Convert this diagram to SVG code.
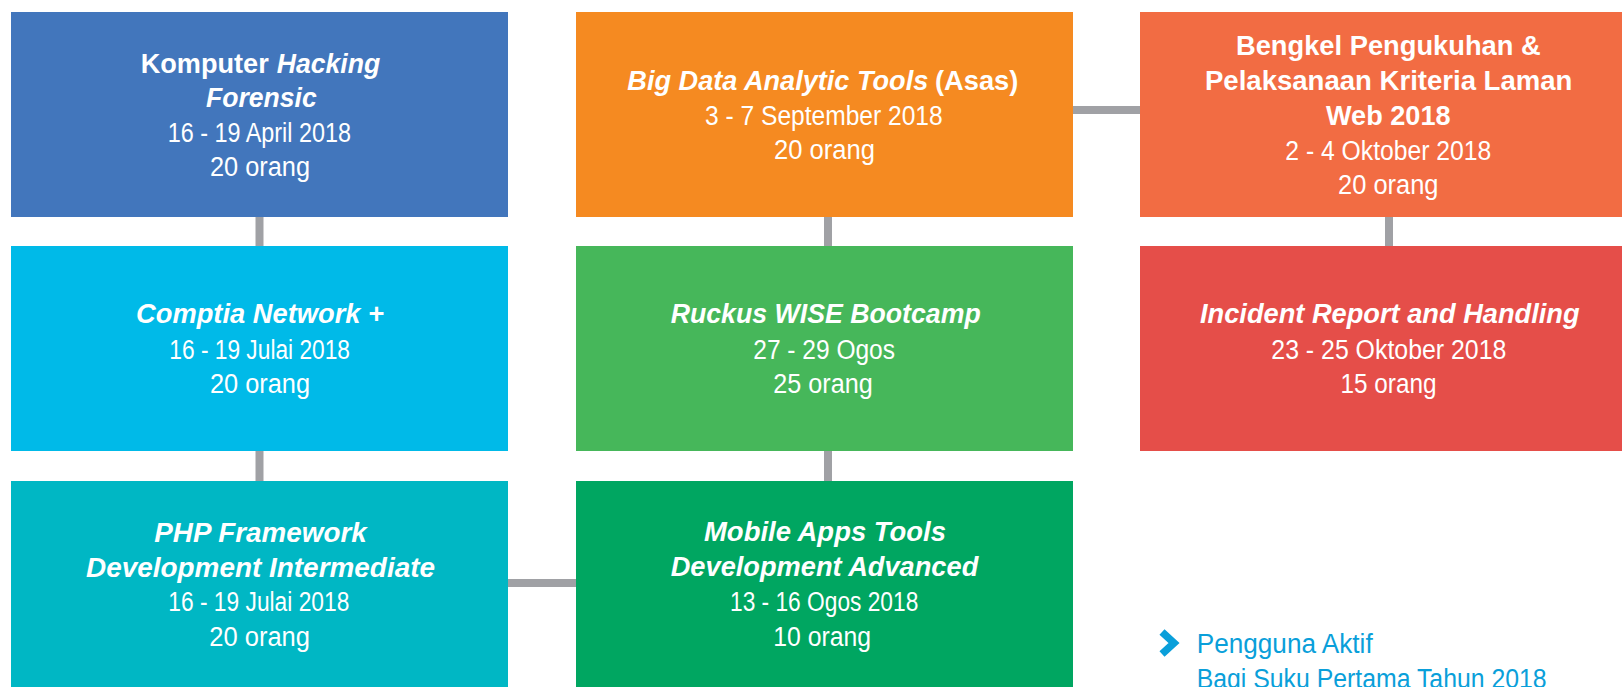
<svg xmlns="http://www.w3.org/2000/svg" width="1622" height="687" viewBox="0 0 1622 687">
<style>
  text { font-family: "Liberation Sans", Arial, sans-serif; font-size: 27px; fill: #ffffff; }
  .b { font-weight: bold; }
  .bi { font-weight: bold; font-style: italic; }
  .r { font-weight: normal; }
  .conn { stroke: #A0A1A5; stroke-width: 8; fill: none; }
  .note { fill: #0A9FDA; }
</style>
<rect x="0" y="0" width="1622" height="687" fill="#ffffff"/>
<g id="connectors">
  <line class="conn" x1="259.5" y1="216" x2="259.5" y2="247"/>
  <line class="conn" x1="259.5" y1="450" x2="259.5" y2="482"/>
  <line class="conn" x1="828" y1="216" x2="828" y2="247"/>
  <line class="conn" x1="828" y1="450" x2="828" y2="482"/>
  <line class="conn" x1="1389" y1="216" x2="1389" y2="247"/>
  <line class="conn" x1="1072" y1="110" x2="1141" y2="110"/>
  <line class="conn" x1="507" y1="583" x2="577" y2="583"/>
</g>
<g id="node-komputer-hacking">
  <rect x="11" y="12" width="497" height="205" fill="#4276BC"/>
  <text class="b" x="140.7" y="72.5" textLength="128" lengthAdjust="spacingAndGlyphs">Komputer</text>
  <text class="bi" x="276.7" y="72.5" textLength="103.5" lengthAdjust="spacingAndGlyphs">Hacking</text>
  <text class="bi" x="206" y="107.2" textLength="110.7" lengthAdjust="spacingAndGlyphs">Forensic</text>
  <text class="r" x="167.7" y="141.9" textLength="183.3" lengthAdjust="spacingAndGlyphs">16 - 19 April 2018</text>
  <text class="r" x="210" y="176" textLength="100" lengthAdjust="spacingAndGlyphs">20 orang</text>
</g>
<g id="node-comptia">
  <rect x="11" y="246" width="497" height="205" fill="#00BAE8"/>
  <text class="bi" x="136" y="323.3" textLength="248" lengthAdjust="spacingAndGlyphs">Comptia Network +</text>
  <text class="r" x="169.3" y="358.5" textLength="180.7" lengthAdjust="spacingAndGlyphs">16 - 19 Julai 2018</text>
  <text class="r" x="210" y="393" textLength="100" lengthAdjust="spacingAndGlyphs">20 orang</text>
</g>
<g id="node-php">
  <rect x="11" y="481" width="497" height="210" fill="#00B7C4"/>
  <text class="bi" x="154.3" y="542" textLength="212.4" lengthAdjust="spacingAndGlyphs">PHP Framework</text>
  <text class="bi" x="86" y="577" textLength="349" lengthAdjust="spacingAndGlyphs">Development Intermediate</text>
  <text class="r" x="168.3" y="611" textLength="181" lengthAdjust="spacingAndGlyphs">16 - 19 Julai 2018</text>
  <text class="r" x="209.3" y="646" textLength="100.7" lengthAdjust="spacingAndGlyphs">20 orang</text>
</g>
<g id="node-big-data">
  <rect x="576" y="12" width="497" height="205" fill="#F58A21"/>
  <text class="bi" x="627.3" y="90" textLength="301" lengthAdjust="spacingAndGlyphs">Big Data Analytic Tools</text>
  <text class="b" x="935" y="90" textLength="83.3" lengthAdjust="spacingAndGlyphs">(Asas)</text>
  <text class="r" x="705" y="124.5" textLength="237.7" lengthAdjust="spacingAndGlyphs">3 - 7 September 2018</text>
  <text class="r" x="774" y="158.5" textLength="101" lengthAdjust="spacingAndGlyphs">20 orang</text>
</g>
<g id="node-ruckus">
  <rect x="576" y="246" width="497" height="205" fill="#46B75A"/>
  <text class="bi" x="670.7" y="322.5" textLength="310" lengthAdjust="spacingAndGlyphs">Ruckus WISE Bootcamp</text>
  <text class="r" x="753.3" y="358.5" textLength="141.7" lengthAdjust="spacingAndGlyphs">27 - 29 Ogos</text>
  <text class="r" x="773.3" y="393" textLength="99.4" lengthAdjust="spacingAndGlyphs">25 orang</text>
</g>
<g id="node-mobile-apps">
  <rect x="576" y="481" width="497" height="210" fill="#00A661"/>
  <text class="bi" x="704" y="541" textLength="242" lengthAdjust="spacingAndGlyphs">Mobile Apps Tools</text>
  <text class="bi" x="670.7" y="576" textLength="307.6" lengthAdjust="spacingAndGlyphs">Development Advanced</text>
  <text class="r" x="730" y="610.5" textLength="188.3" lengthAdjust="spacingAndGlyphs">13 - 16 Ogos 2018</text>
  <text class="r" x="773.3" y="645.5" textLength="97.7" lengthAdjust="spacingAndGlyphs">10 orang</text>
</g>
<g id="node-bengkel">
  <rect x="1140" y="12" width="497" height="205" fill="#F26C43"/>
  <text class="b" x="1236" y="55" textLength="304.7" lengthAdjust="spacingAndGlyphs">Bengkel Pengukuhan &amp;</text>
  <text class="b" x="1205" y="90" textLength="367.4" lengthAdjust="spacingAndGlyphs">Pelaksanaan Kriteria Laman</text>
  <text class="b" x="1326" y="124.5" textLength="124.6" lengthAdjust="spacingAndGlyphs">Web 2018</text>
  <text class="r" x="1285.3" y="159.5" textLength="206" lengthAdjust="spacingAndGlyphs">2 - 4 Oktober 2018</text>
  <text class="r" x="1338" y="194" textLength="100.5" lengthAdjust="spacingAndGlyphs">20 orang</text>
</g>
<g id="node-incident">
  <rect x="1140" y="246" width="497" height="205" fill="#E54E49"/>
  <text class="bi" x="1200" y="323" textLength="379.6" lengthAdjust="spacingAndGlyphs">Incident Report and Handling</text>
  <text class="r" x="1271.3" y="358.5" textLength="235" lengthAdjust="spacingAndGlyphs">23 - 25 Oktober 2018</text>
  <text class="r" x="1340.5" y="393" textLength="96" lengthAdjust="spacingAndGlyphs">15 orang</text>
</g>
<g id="note-pengguna">
  <path d="M1162 632 L1174 643 L1162 654" fill="none" stroke="#0A9FDA" stroke-width="7.5" stroke-linejoin="miter"/>
  <text class="r note" x="1196.7" y="653.3" textLength="176" lengthAdjust="spacingAndGlyphs">Pengguna Aktif</text>
  <text class="r note" x="1196.7" y="688" textLength="350" lengthAdjust="spacingAndGlyphs">Bagi Suku Pertama Tahun 2018</text>
</g>
</svg>
